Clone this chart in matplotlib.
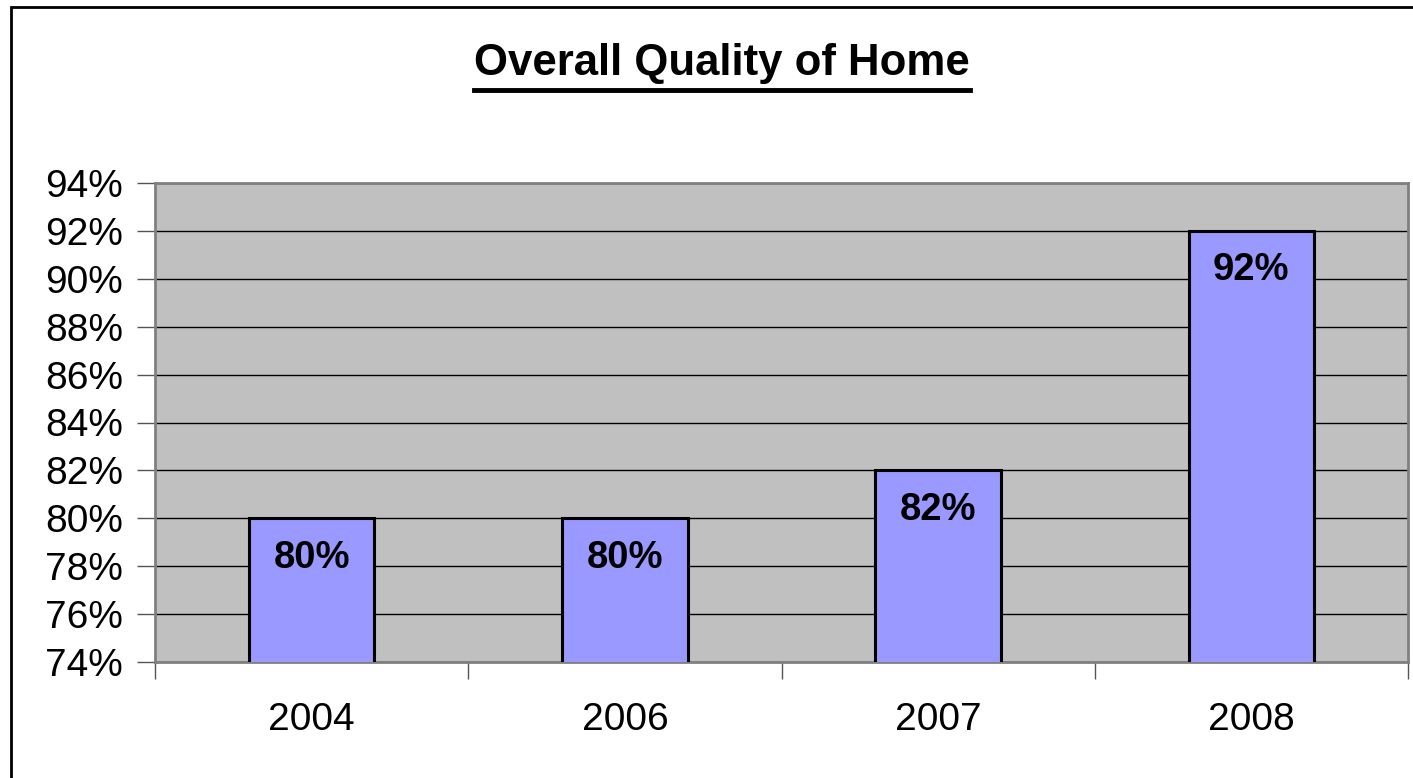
import numpy as np
import matplotlib.pyplot as plt
import matplotlib.patches as patches
from matplotlib.lines import Line2D

plt.rcParams['font.family'] = ['Liberation Sans', 'DejaVu Sans']

# data
years = ['2004', '2006', '2007', '2008']
quality = [80, 80, 82, 92]
bar_labels = ['80%', '80%', '82%', '92%']
y_ticks = np.arange(74, 95, 2)

fig = plt.figure(figsize=(14.13, 7.78), dpi=100)
ax = fig.add_axes([155/1413, 116/778, 1253/1413, 479/778])

x = np.arange(len(years))
ax.bar(x, quality, width=0.40, color='#9999FF', edgecolor='black', linewidth=2.2, zorder=3)

# value labels inside the bars
for xi, v, lab in zip(x, quality, bar_labels):
    ax.text(xi, v - 1.65, lab, ha='center', va='center', fontsize=27.5, fontweight='bold', zorder=4)

ax.set_facecolor('#C0C0C0')
ax.set_ylim(74, 94)
ax.set_xlim(-0.5, len(years) - 0.5)
ax.set_yticks(y_ticks)
ax.set_yticklabels([f'{t}%' for t in y_ticks], fontsize=28)
ax.grid(axis='y', color='black', linewidth=1.0, zorder=1)
ax.set_axisbelow(True)

ax.set_xticks(x)
ax.set_xticklabels(years, fontsize=28)
ax.tick_params(axis='x', which='major', length=0, pad=29)
ax.set_xticks(np.arange(-0.5, len(years)), minor=True)
ax.tick_params(axis='x', which='minor', length=12, color='#555555', width=1)
ax.tick_params(axis='y', length=13, color='#555555', width=1, pad=10)

for s in ax.spines.values():
    s.set_color('#808080')
    s.set_linewidth(2)

# title with underline
title = fig.text(722/1413, 1 - 64/778, 'Overall Quality of Home', ha='center', va='center',
                 fontsize=31.5, fontweight='bold')
fig.canvas.draw()
bb = title.get_window_extent().transformed(fig.transFigure.inverted())
fig.add_artist(Line2D([bb.x0, bb.x1], [1 - 90/778, 1 - 90/778], color='black', linewidth=3.5,
                      transform=fig.transFigure))

# figure border
fig.add_artist(patches.Rectangle((11/1413, -0.05), 1.1, 1 - 7/778 + 0.05, fill=False,
                                 edgecolor='black', linewidth=2, transform=fig.transFigure))

plt.savefig('out.png', dpi=100)
